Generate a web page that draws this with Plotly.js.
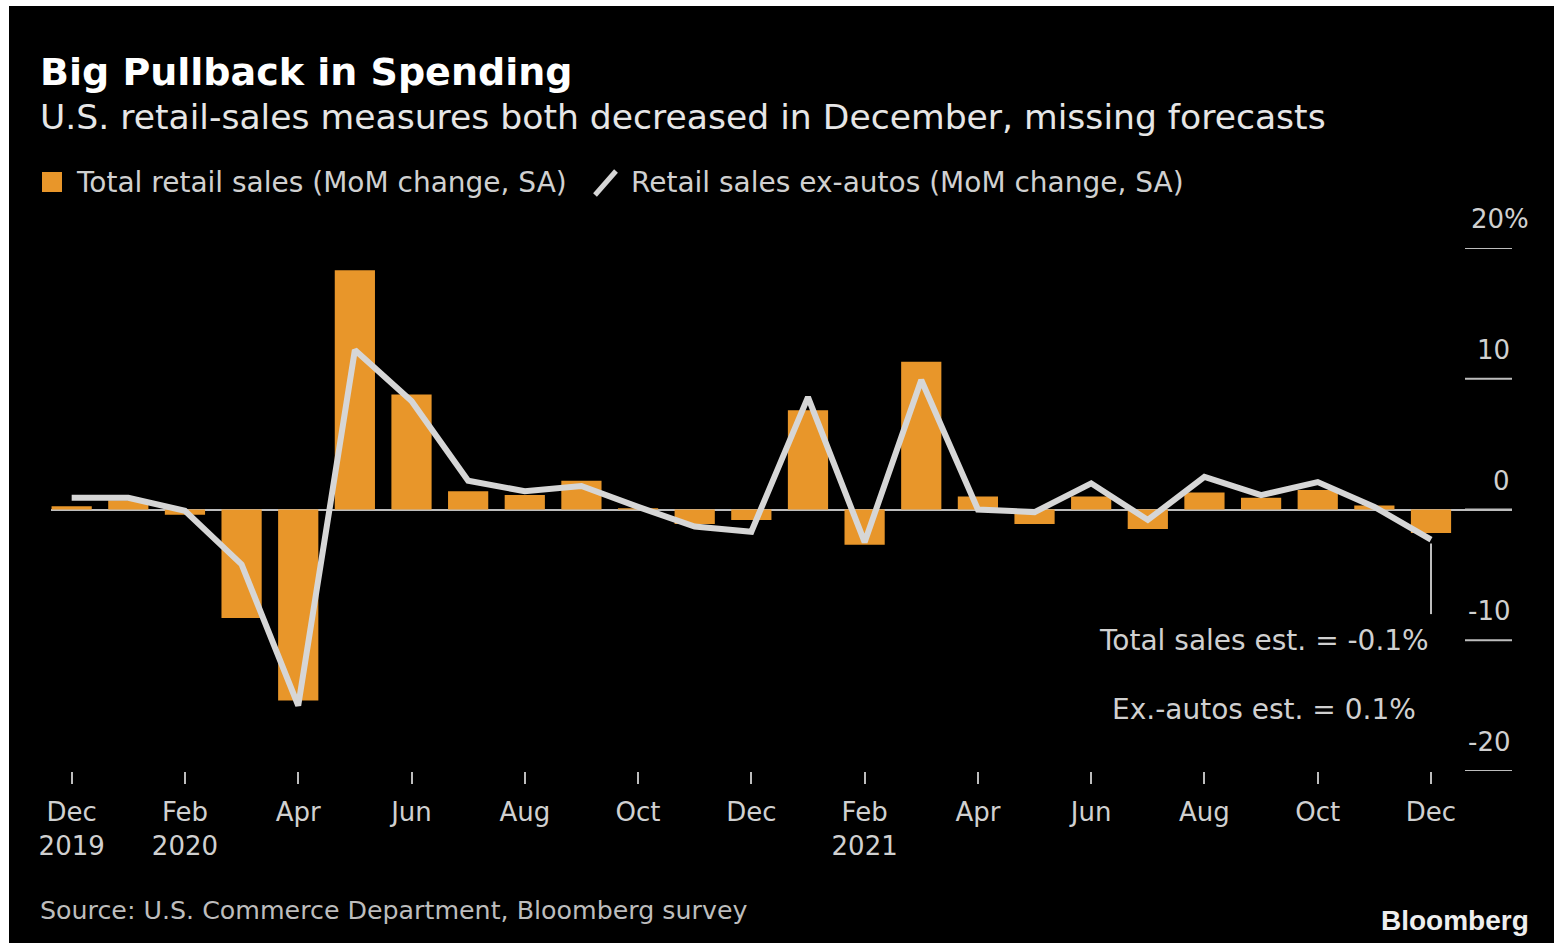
<!DOCTYPE html>
<html>
<head>
<meta charset="utf-8">
<script src="https://cdn.plot.ly/plotly-3.0.1.min.js"></script>
<style>
  html, body { margin: 0; padding: 0; background: #ffffff; width: 1554px; height: 943px; overflow: hidden; }
  #chart { position: absolute; left: 9px; top: 6px; width: 1545px; height: 937px; }
</style>
</head>
<body>
<div id="chart"></div>
<script>
// ---- Data ----
const months = ["Dec 2019","Jan 2020","Feb 2020","Mar 2020","Apr 2020","May 2020","Jun 2020","Jul 2020","Aug 2020","Sep 2020","Oct 2020","Nov 2020","Dec 2020",
                "Jan 2021","Feb 2021","Mar 2021","Apr 2021","May 2021","Jun 2021","Jul 2021","Aug 2021","Sep 2021","Oct 2021","Nov 2021","Dec 2021"];
const totalRetail = [0.25, 0.7, -0.4, -8.3, -14.6, 18.3, 8.8, 1.4, 1.1, 2.2, 0.1, -1.1, -0.8,
                     7.6, -2.7, 11.3, 1.0, -1.1, 1.0, -1.5, 1.3, 0.9, 1.5, 0.3, -1.8];
const exAutos = [0.9, 0.9, -0.1, -4.2, -15.0, 12.2, 8.3, 2.2, 1.4, 1.8, 0.2, -1.3, -1.7,
                 8.6, -2.5, 9.9, 0.0, -0.2, 2.0, -0.8, 2.5, 1.1, 2.1, 0.2, -2.3];
const xTickVals = ["Dec 2019","Feb 2020","Apr 2020","Jun 2020","Aug 2020","Oct 2020","Dec 2020","Feb 2021","Apr 2021","Jun 2021","Aug 2021","Oct 2021","Dec 2021"];
const xTickText = ["Dec<br>2019","Feb<br>2020","Apr","Jun","Aug","Oct","Dec","Feb<br>2021","Apr","Jun","Aug","Oct","Dec"];
const yTickVals = [20, 10, 0, -10, -20];
const yTickText = ["20%", "10", "0", "-10", "-20"];
const estLineTop = -2.6, estLineBottom = -8.0;
const estTexts = ["Total sales est. = -0.1%", "Ex.-autos est. = 0.1%"];
const estLevels = [-10, -15.3];

// ---- Style ----
const FONT = "DejaVu Sans, Liberation Sans, sans-serif";
const FONT_LOGO = "Liberation Sans, Arial, sans-serif";
const ORANGE = "#E8962A";
const LINEGRAY = "#D6D6D6";
const TEXT = "#D0D0D0";

// page pixel -> paper coordinates (plot area: x 51..1512, y 248..771 in page px)
const px = X => (X - 51) / 1461;
const py = Y => (771 - Y) / 523;

const traces = [
  { type: "bar", x: months, y: totalRetail, marker: { color: ORANGE }, name: "Total retail sales (MoM change, SA)", hoverinfo: "x+y" },
  { type: "scatter", mode: "lines", x: months, y: exAutos, line: { color: LINEGRAY, width: 6 }, name: "Retail sales ex-autos (MoM change, SA)" }
];

const annotations = [
  { xref: "paper", yref: "paper", x: px(38), y: py(72), xanchor: "left", yanchor: "middle", showarrow: false,
    text: "<b>Big Pullback in Spending</b>", font: { family: FONT, size: 38, color: "#FFFFFF" } },
  { xref: "paper", yref: "paper", x: px(38), y: py(117), xanchor: "left", yanchor: "middle", showarrow: false,
    text: "U.S. retail-sales measures both decreased in December, missing forecasts", font: { family: FONT, size: 34.6, color: "#E6E6E6" } },
  { xref: "paper", yref: "paper", x: px(74), y: py(182), xanchor: "left", yanchor: "middle", showarrow: false,
    text: "Total retail sales (MoM change, SA)", font: { family: FONT, size: 28, color: TEXT } },
  { xref: "paper", yref: "paper", x: px(629), y: py(182), xanchor: "left", yanchor: "middle", showarrow: false,
    text: "Retail sales ex-autos (MoM change, SA)", font: { family: FONT, size: 28, color: TEXT } },
  { xref: "paper", yref: "paper", x: px(38), y: py(910), xanchor: "left", yanchor: "middle", showarrow: false,
    text: "Source: U.S. Commerce Department, Bloomberg survey", font: { family: FONT, size: 25.3, color: "#BDBDBD" } },
  { xref: "paper", yref: "paper", x: px(1531), y: py(920), xanchor: "right", yanchor: "middle", showarrow: false,
    text: "<b>Bloomberg</b>", font: { family: FONT_LOGO, size: 28, color: "#EEEEEE" } }
];
yTickVals.forEach((v, i) => {
  annotations.push({ xref: "paper", yref: "y", x: 1, y: v, xanchor: "right", yanchor: "middle", yshift: 29,
    xshift: yTickText[i].endsWith("%") ? 19 : 0, showarrow: false, text: yTickText[i],
    font: { family: FONT, size: 26, color: TEXT } });
});
estTexts.forEach((t, i) => {
  annotations.push({ xref: "paper", yref: "y", x: px(1264), y: estLevels[i], xanchor: "center", yanchor: "middle",
    showarrow: false, text: t, font: { family: FONT, size: 28, color: TEXT } });
});

const shapes = [
  // legend swatch (square)
  { type: "rect", xref: "paper", yref: "paper", x0: px(42), x1: px(62), y0: py(192), y1: py(172), fillcolor: ORANGE, line: { width: 0 } },
  // legend slash for the line series
  { type: "line", xref: "paper", yref: "paper", x0: px(595), x1: px(616), y0: py(195), y1: py(171), line: { color: LINEGRAY, width: 5 } },
  // estimate pointer
  { type: "line", xref: "x", yref: "y", x0: months[months.length - 1], x1: months[months.length - 1], y0: estLineTop, y1: estLineBottom,
    line: { color: "#BDBDBD", width: 2 } }
];
// y-axis tick lines (short horizontal rules at the right edge)
yTickVals.forEach(v => {
  shapes.push({ type: "line", xref: "paper", yref: "y", x0: px(1465), x1: 1, y0: v, y1: v, line: { color: "#BDBDBD", width: 2 } });
});

const layout = {
  width: 1545, height: 937,
  margin: { l: 42, r: 42, t: 242, b: 172, pad: 0 },
  paper_bgcolor: "#000000", plot_bgcolor: "#000000",
  showlegend: false,
  bargap: 0.29,
  font: { family: FONT, color: TEXT },
  xaxis: {
    type: "category", range: [-0.365, 25.43], fixedrange: true,
    tickmode: "array", tickvals: xTickVals, ticktext: xTickText,
    ticks: "outside", ticklen: 12, tickwidth: 2, tickcolor: "#BDBDBD",
    ticklabelstandoff: 6,
    tickfont: { family: FONT, size: 26, color: TEXT },
    showgrid: false, zeroline: false, showline: false
  },
  yaxis: {
    range: [-20, 20], side: "right", fixedrange: true,
    showticklabels: false, ticks: "", showgrid: false, showline: false,
    zeroline: true, zerolinecolor: "#BDBDBD", zerolinewidth: 2
  },
  annotations: annotations,
  shapes: shapes
};

Plotly.newPlot("chart", traces, layout, { displayModeBar: false, staticPlot: true });
</script>
</body>
</html>
